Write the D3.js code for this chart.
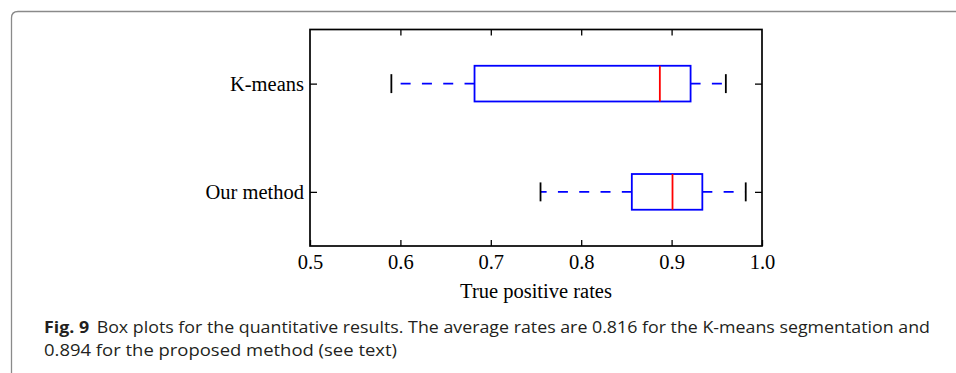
<!DOCTYPE html>
<html>
<head>
<meta charset="utf-8">
<script src="https://cdn.jsdelivr.net/npm/d3@7"></script>
<style>
    html, body { margin: 0; padding: 0; background: #fff; }
    svg { display: block; }
</style>
</head>
<body>
<div class="Canvas"></div>
<script>
// Box plot values (true positive rates).
const categories = ['K-means', 'Our method'];
const whiskerLow = [0.590, 0.755];
const q1 = [0.682, 0.856];
const median = [0.887, 0.901];
const q3 = [0.921, 0.934];
const whiskerHigh = [0.960, 0.982];
const xTicks = [0.5, 0.6, 0.7, 0.8, 0.9, 1.0];
const xLabel = 'True positive rates';
const captionBold = 'Fig. 9';
const captionLines = [
    'Box plots for the quantitative results. The average rates are 0.816 for the K-means segmentation and',
    '0.894 for the proposed method (see text)',
];

const width = 956;
const height = 373;
const plot = { left: 310, right: 762, top: 29.5, bottom: 246 };
const serif = '"Liberation Serif", "Times New Roman", serif';
const sans = '"Open Sans", "Noto Sans", sans-serif';

const svg = d3.select('.Canvas').append('svg').attr('width', width).attr('height', height);

// Card border with a rounded top-left corner (right and bottom run off the page).
svg.append('path')
    .attr('d', 'M11.5,373 V18 Q11.5,11.5 18,11.5 H956')
    .attr('fill', 'none')
    .attr('stroke', '#8a8a8a')
    .attr('stroke-width', 1.3);

const x = d3.scaleLinear().domain([0.5, 1.0]).range([plot.left, plot.right]);
const y = d3.scalePoint().domain(categories).range([plot.top, plot.bottom]).padding(0.5);
const boxH = y.step() * 0.33;
const capH = boxH * 0.53;

// Axes, ticks point inward on all four sides.
svg.append('g')
    .attr('transform', `translate(0,${plot.bottom})`)
    .call(d3.axisBottom(x).tickValues(xTicks).tickFormat(d3.format('.1f')).tickSizeInner(-6).tickSizeOuter(0).tickPadding(8));
svg.append('g')
    .attr('transform', `translate(0,${plot.top})`)
    .call(d3.axisTop(x).tickValues(xTicks.slice(1, -1)).tickFormat('').tickSizeInner(-6).tickSizeOuter(0));
svg.append('g')
    .attr('transform', `translate(${plot.left},0)`)
    .call(d3.axisLeft(y).tickSizeInner(-7).tickSizeOuter(0).tickPadding(6));
svg.append('g')
    .attr('transform', `translate(${plot.right},0)`)
    .call(d3.axisRight(y).tickFormat('').tickSizeInner(-7).tickSizeOuter(0));

svg.selectAll('.domain').remove();
svg.selectAll('.tick line').attr('stroke', '#000').attr('stroke-width', 1.3);
svg.selectAll('.tick text').attr('fill', '#000').style('font-family', serif).style('font-size', '20.5px');

// Frame
svg.append('rect')
    .attr('x', plot.left)
    .attr('y', plot.top)
    .attr('width', plot.right - plot.left)
    .attr('height', plot.bottom - plot.top)
    .attr('fill', 'none')
    .attr('stroke', '#000')
    .attr('stroke-width', 1.7);

// Boxes
const rows = categories.map((c, i) => ({
    name: c, lo: whiskerLow[i], q1: q1[i], med: median[i], q3: q3[i], hi: whiskerHigh[i],
}));
const g = svg.selectAll('g.box').data(rows).enter().append('g').attr('class', 'box');

// whiskers are dashed from the box edge out to the cap
g.append('line')
    .attr('x1', (d) => x(d.q1)).attr('x2', (d) => x(d.lo))
    .attr('y1', (d) => y(d.name)).attr('y2', (d) => y(d.name))
    .attr('stroke', '#0000ff').attr('stroke-width', 1.6).attr('stroke-dasharray', '10,11.3');
g.append('line')
    .attr('x1', (d) => x(d.q3)).attr('x2', (d) => x(d.hi))
    .attr('y1', (d) => y(d.name)).attr('y2', (d) => y(d.name))
    .attr('stroke', '#0000ff').attr('stroke-width', 1.6).attr('stroke-dasharray', '10,11.3');

// caps
['lo', 'hi'].forEach((k) => {
    g.append('line')
        .attr('x1', (d) => x(d[k])).attr('x2', (d) => x(d[k]))
        .attr('y1', (d) => y(d.name) - capH / 2).attr('y2', (d) => y(d.name) + capH / 2)
        .attr('stroke', '#000').attr('stroke-width', 1.8);
});

g.append('rect')
    .attr('x', (d) => x(d.q1))
    .attr('y', (d) => y(d.name) - boxH / 2)
    .attr('width', (d) => x(d.q3) - x(d.q1))
    .attr('height', boxH)
    .attr('fill', 'none')
    .attr('stroke', '#0000ff')
    .attr('stroke-width', 1.8);

g.append('line')
    .attr('x1', (d) => x(d.med)).attr('x2', (d) => x(d.med))
    .attr('y1', (d) => y(d.name) - boxH / 2).attr('y2', (d) => y(d.name) + boxH / 2)
    .attr('stroke', '#ff0000').attr('stroke-width', 1.8);

// Axis title
svg.append('text')
    .attr('x', (plot.left + plot.right) / 2)
    .attr('y', 298)
    .attr('text-anchor', 'middle')
    .style('font-family', serif)
    .style('font-size', '20.5px')
    .attr('fill', '#000')
    .text(xLabel);

// Caption, squeezed to the width of the original typeset lines
const capWidths = [886, 353];
const capY = [333, 356];
captionLines.forEach((line, i) => {
    const t = svg.append('text')
        .attr('x', 44)
        .attr('y', capY[i])
        .style('font-family', sans)
        .style('font-size', '16.5px')
        .attr('fill', '#231f20');
    if (i == 0) {
        t.append('tspan').style('font-weight', 'bold').text(captionBold);
        t.append('tspan').attr('dx', 7).text(line);
    } else {
        t.append('tspan').text(line);
    }
    t.attr('textLength', capWidths[i]).attr('lengthAdjust', 'spacingAndGlyphs');
});
</script>
</body>
</html>
